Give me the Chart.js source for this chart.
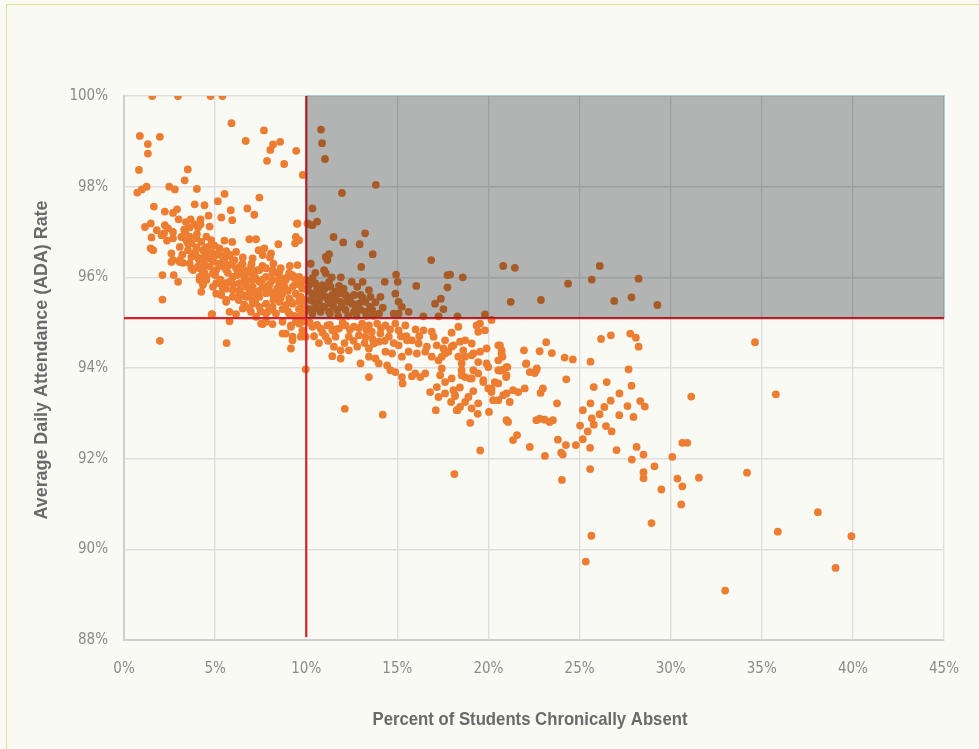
<!DOCTYPE html>
<html>
<head>
<meta charset="utf-8">
<script src="https://cdn.jsdelivr.net/npm/chart.js@4/dist/chart.umd.min.js"></script>
<style>
  html, body { margin: 0; padding: 0; background: #fafaf5; overflow: hidden; }
  #frame { position: absolute; left: 6px; top: 4px; width: 1200px; height: 1000px;
           border: 1.5px solid #e3e48e; box-sizing: border-box; }
  #wrap { position: absolute; left: 0; top: 0; width: 979px; height: 749px; }
</style>
</head>
<body>
<div id="frame"></div>
<div id="wrap"><canvas id="chart" width="979" height="749"></canvas></div>
<script>
// Schools: [percent of students chronically absent, average daily attendance rate]
const schoolsUnder10 = [
  [1.55,100],[2.96,100],[4.75,100],[5.4,100],
  [5.9,99.4],[7.68,99.24],[6.68,99.01],[8.18,98.93],[8.57,98.99],[8.03,98.81],[9.45,98.79],[7.85,98.57],[8.79,98.5],[9.81,98.26],
  [0.87,99.12],[1.97,99.1],[1.31,98.94],[1.31,98.73],[0.82,98.37],[3.5,98.38],[3.33,98.14],[4.0,97.95],[1.24,98.0],[0.98,97.94],[0.73,97.87],[2.48,98.0],[2.79,97.94],
  [5.52,97.84],[5.15,97.68],[7.43,97.76],[1.64,97.56],[2.24,97.45],[2.69,97.42],[2.91,97.5],[3.88,97.61],[4.42,97.59],[5.86,97.48],[6.77,97.52],[7.15,97.38],[5.34,97.32],[5.94,97.26],[4.64,97.36],[3.0,97.28],[1.15,97.11],[1.47,97.19],[9.49,97.18],
  [3.4,97.22],[3.66,97.28],[4.2,97.28],[1.8,97.04],
  [2.24,97.15],[2.42,97.08],[2.69,97.0],[2.2,96.97],
  [3.35,97.0],[3.6,97.1],[3.88,97.17],[4.06,97.1],[4.2,97.17],[4.7,97.12],
  [1.51,96.88],[2.06,96.93],[2.36,96.81],[2.69,96.86],[3.15,96.89],
  [1.46,96.64],[1.6,96.6],
  [3.42,96.82],[3.7,96.75],[3.97,96.86],[4.24,96.78],[4.52,96.9],[4.79,96.82],
  [5.51,96.81],[5.94,96.78],[6.88,96.84],[7.25,96.84],[8.47,96.73],[9.61,96.82],[9.39,96.75],[9.52,97.19],
  [3.06,96.67],[3.51,96.6],[3.97,96.66],[4.33,96.6],[4.6,96.67],[4.97,96.7],[5.24,96.64],[5.61,96.58],[6.15,96.56],
  [2.6,96.53],[2.69,96.38],[3.06,96.38],[3.24,96.32],
  [3.7,96.45],[4.06,96.44],[4.42,96.45],[4.7,96.42],[5.06,96.49],[5.42,96.45],[5.79,96.47],[6.06,96.38],[6.52,96.44],[7.06,96.42],[7.61,96.49],[8.01,96.44],[7.39,96.6],[7.7,96.64],[8.07,96.53],
  [3.7,96.2],[4.06,96.24],[4.33,96.16],[4.7,96.24],[5.06,96.16],[5.42,96.24],[5.79,96.27],[6.15,96.2],[6.6,96.16],[6.97,96.24],[7.33,96.16],[7.79,96.2],[8.15,96.16],[8.52,96.12],[9.06,96.09],[9.34,96.01],[9.61,96.01],[9.88,95.94],[9.7,95.83],
  [2.11,96.05],[2.73,96.05],[2.97,95.9],[2.11,95.51],
  [4.15,96.01],[4.52,95.94],[4.33,95.83],[4.24,95.68],[4.88,95.79],[5.24,95.87],[5.06,95.64],[5.42,95.75],[5.79,95.9],[5.97,95.57],[6.34,95.72],[6.7,95.83],[7.06,95.94],[7.43,95.9],[7.79,96.01],[8.15,95.94],[8.52,95.87],[8.88,95.98],[9.25,96.01],[9.61,95.87],[9.79,95.75],[9.43,95.64],[9.07,95.53],[8.7,95.64],[8.34,95.57],[7.97,95.72],[7.61,95.79],[7.25,95.64],[6.88,95.57],[6.52,95.61],[7.06,95.42],[7.43,95.35],[7.79,95.42],[8.15,95.35],[8.52,95.46],[8.88,95.39],[9.25,95.42],[9.61,95.46],[9.88,95.35],[5.79,95.24],[6.15,95.19],[4.84,95.19],[5.79,95.03],[7.61,94.97],[8.15,94.97],[8.7,95.02],[9.16,94.94],[9.61,94.98],[9.79,94.76],[8.7,94.76],[9.25,94.69],[9.88,95.28],[9.07,95.2],[8.34,95.2],[7.88,95.24],
  [6.88,95.32],[7.25,95.13],[5.34,95.61],[5.61,95.46],[4.42,96.09],
  [1.97,94.6],[5.63,94.55],[4.81,95.18],[9.97,93.97],
  [9.43,96.89],[9.52,96.27],
  [9.7,95.94],[9.79,95.76],[9.7,95.57],[9.79,95.35],[9.88,95.2],
  [9.79,95.02],[9.79,94.83],[9.7,94.69],
  [5.06,95.87],[5.61,95.5],[6.34,95.64],[6.7,95.79],[7.06,95.5],[7.79,95.2],[8.15,95.28],[9.25,95.79],[9.61,95.57],[9.61,95.13],[9.43,95.02],[9.16,94.91],[8.88,94.76],[9.97,94.69],[9.16,94.43],[9.25,94.61],[7.52,94.98],[6.97,95.24],[6.52,95.31],[7.79,95.02],
  [2.6,96.34],[3.06,96.34],[3.6,96.31],[4.15,96.2],[3.79,96.16],[4.33,96.09],
  [4.15,95.94],[4.33,95.87],[4.52,96.01],[4.88,96.09],
  [5.61,96.16],[5.97,96.01],[6.34,96.09],[6.7,95.94],[7.06,96.09],[7.43,96.16],[8.15,96.09],[8.52,96.01],[8.88,95.94],[9.25,96.05],[9.97,95.94],
  [5.61,95.87],[6.34,95.87],[7.06,95.79],[7.79,95.79],[8.15,95.64],[8.52,95.72],[7.43,95.57],[6.7,95.57],[5.97,95.72],
  [3.2,96.5],[3.5,96.75],[3.9,96.55],[4.1,96.4],[4.4,96.3],[4.6,96.5],[4.9,96.35],[5.2,96.3],[5.5,96.35],[5.7,96.1],[5.9,96.3],[6.2,96.05],[6.4,96.25],[6.6,96.0],[6.8,96.1],[7.0,95.95],[7.2,96.0],[7.4,95.7],[7.6,95.95],[7.8,95.65],[8.0,95.85],[8.2,95.5],[8.4,95.75],[8.6,95.55],[8.8,95.8],[9.0,95.7],[9.2,95.45],[9.4,95.85],[9.6,95.3],[9.85,95.5],
  [5.0,96.05],[5.3,95.95],[5.6,95.75],[6.0,95.85],[6.3,95.5],[6.6,95.4],[6.9,95.7],[7.2,95.45],[7.5,95.25],[8.0,95.3],[8.3,95.6],[8.7,95.3],[9.0,95.25],[9.35,95.15],
  [4.5,96.65],[4.0,96.95],[4.8,96.55],[3.6,96.9],[3.3,97.05],[5.2,96.55],[5.8,96.5],[6.5,96.3],[7.0,96.3],[7.6,96.25],[8.2,96.3],[8.6,96.2],[9.1,96.25]
];

const schools10to20 = [
  [10.16,97.17],[10.34,97.15],[10.6,97.23],
  [10.81,99.26],[10.87,98.96],[11.03,98.61],[13.82,98.04],[11.96,97.86],[10.34,97.52],[10.07,97.19],
  [11.5,96.89],[13.23,96.97],[12.03,96.77],[12.93,96.73],[13.65,96.51],[11.25,96.51],[11.07,96.45],[11.16,96.38],[13.02,96.23],[16.86,96.38],[10.98,96.16],[11.07,96.09],[10.34,95.98],[10.49,95.87],[10.16,95.83],[10.89,95.83],[11.25,95.9],[11.34,95.79],[11.8,95.81],[11.61,95.68],
  [10.34,95.64],[10.61,95.61],[10.89,95.68],[10.25,95.5],[10.7,95.46],[11.07,95.57],[11.43,95.61],[11.8,95.64],[12.16,95.61],[12.25,95.46],[11.89,95.46],[11.34,95.42],[10.98,95.35],[10.52,95.31],[10.34,95.2],[10.79,95.24],[11.25,95.24],[11.7,95.28],[12.16,95.28],[12.62,95.24],[12.98,95.28],[13.25,95.24],[13.62,95.28],[12.89,95.42],[13.25,95.46],[13.53,95.57],[13.44,95.72],[12.8,95.79],[12.98,95.61],[12.62,95.61],[12.52,95.42],
  [14.31,95.9],[14.93,96.06],[15.02,95.9],[14.89,95.64],[14.07,95.57],[15.07,95.46],[15.25,95.35],[15.62,95.24],[14.2,95.33],[14.8,95.2],[15.07,95.2],[16.04,95.81],[17.07,95.42],[17.39,95.53],[17.53,95.3],[17.75,96.05],[17.9,96.06],[18.59,96.0],[17.75,95.78],[16.43,95.14],[17.26,95.14],[18.3,95.14],[19.81,95.18],
  [10.34,94.91],[10.43,94.7],[10.79,94.87],[11.16,94.94],[11.43,94.83],[11.07,94.69],[11.8,94.87],[12.16,94.94],[12.62,94.91],[13.07,94.98],[13.44,94.94],[13.89,94.98],[14.35,94.94],[14.89,94.98],[15.44,94.94],
  [11.61,94.69],[12.34,94.69],[12.89,94.72],[13.25,94.69],[13.62,94.65],[14.07,94.76],[14.53,94.69],[15.07,94.83],
  [11.52,94.47],[11.89,94.39],[12.34,94.39],[12.8,94.47],[13.44,94.43],[13.71,94.54],[14.35,94.36],[13.98,94.58],[14.71,94.32],[15.07,94.5],[15.53,94.61],[15.8,94.61],[16.17,94.54],[16.44,94.83],[16.89,94.8],[16.99,94.69],[16.62,94.47],[17.16,94.5],[17.62,94.61],[17.98,94.78],[18.35,94.91],[18.72,94.61],[19.08,94.54],[19.44,94.8],[19.81,94.83],[19.9,94.43],[19.54,94.36],[19.08,94.28],[18.72,94.25],[18.35,94.25],[17.98,94.47],[17.62,94.32],[17.26,94.17],[16.89,94.25],[16.53,94.36],[16.07,94.32],[15.62,94.36],[15.25,94.25],
  [12.98,94.1],[13.44,93.8],[13.98,94.1],[14.44,94.06],[14.62,93.95],[14.89,93.91],[13.8,94.21],[13.44,94.25],[11.43,94.26],[11.89,94.21],
  [15.25,93.8],[15.62,94.02],[15.98,93.88],[16.53,93.88],[16.8,93.47],[17.17,93.58],[17.62,93.69],[18.08,93.51],[18.17,93.4],[18.53,93.95],[18.72,93.8],[19.08,93.77],[19.44,93.88],[19.72,93.69],[19.99,94.02],
  [17.53,94.43],[17.8,94.36],[17.44,94.25],[18.08,94.5],[18.44,94.58],[18.62,94.39],[19.17,94.32],[19.44,94.13],[19.9,94.1],[18.53,94.1],[17.44,93.99],[17.35,93.84],[17.98,93.77],[18.53,93.84],[18.99,93.77],[19.17,93.95],[19.35,94.94],[19.54,94.98],
  [19.72,93.73],[19.99,93.55],
  [18.13,91.66],[19.55,92.18],[19.0,92.79],[19.08,93.11],[19.41,92.99],[18.3,93.07],[18.17,93.38],[19.17,93.49],
  [12.12,93.1],[14.2,92.97],[15.29,93.66],[15.8,93.82],[16.26,93.8],[17.11,93.07],[18.43,93.57],[18.26,93.07],[19.44,93.22],[17.26,93.36],[17.62,93.44],[17.95,93.25],[18.9,93.36],[18.72,93.25],[18.44,93.14],
  [10.1,95.7],[10.2,95.3],[10.45,95.45],[10.6,95.75],[10.75,95.55],[10.9,95.35],[11.0,95.75],[11.2,95.5],[11.3,95.2],[11.5,95.35],[11.6,95.5],[11.75,95.15],[11.95,95.35],[12.05,95.75],[12.3,95.15],[12.4,95.55],[12.7,95.38],[12.75,95.15],[13.1,95.55],[13.3,95.15],[13.5,95.35],[13.8,95.45],[14.0,95.2],[12.5,95.9],[11.9,96.0],[11.4,96.0],[10.5,96.1],[10.25,96.3],[13.1,95.9],[13.7,95.15],
  [10.2,95.0],[10.6,94.95],[10.9,94.78],[11.3,94.95],[11.6,94.85],[12.0,95.0],[12.4,94.85],[12.9,94.88],[13.3,94.85],[13.6,94.8],[14.1,94.88],[14.6,94.85],[15.2,94.7],[10.7,94.55],[11.2,94.6],[12.1,94.55],[12.6,94.6],[13.2,94.55],[14.3,94.6],[14.8,94.55],[15.5,94.7],[16.0,94.85],[16.2,94.7]
];

const schools20Plus = [
  [20.17,95.06],[20.17,93.55],[20.63,94.5],[20.72,94.32],[20.99,94.02],[20.54,93.95],[20.99,93.84],
  [20.17,93.47],[20.35,93.69],[20.54,93.66],[20.81,93.4],[20.54,93.29],[20.26,93.29],[20.99,93.44],[21.17,93.25],[21.35,93.51],[21.63,93.47],[21.99,93.55],[21.95,94.39],[22.08,94.1],[22.27,93.91],[22.63,93.95],[22.81,94.37],[23.17,94.57],[23.48,94.33],[24.18,94.23],[24.63,94.19],[24.27,93.75],[25.6,94.14],[26.18,94.64],[26.72,94.72],[27.78,94.76],[28.09,94.67],[28.24,94.47],[27.69,93.97],[27.85,93.61],[28.33,93.27],[28.58,93.15],[27.63,93.16],[27.19,93.44],[27.18,92.96],[27.96,92.92],[26.71,93.28],[26.36,93.14],[26.1,92.98],[26.49,93.69],[25.78,93.58],[25.18,93.07],[25.6,93.22],[25.67,92.89],[25.78,92.75],[25.03,92.73],[26.45,92.72],[26.76,92.6],[25.45,92.6],[25.18,92.43],[25.58,92.24],[27.03,92.19],[28.13,92.26],[28.51,92.09],[27.87,91.98],[29.11,91.83],[30.09,92.04],[28.51,91.7],[28.51,91.57],[29.49,91.32],[30.37,91.56],[30.64,91.39],[31.55,91.58],[30.58,90.99],[30.64,92.35],[30.91,92.35],[31.13,93.37],[25.58,91.77],[24.03,91.53],[23.1,92.06],[23.99,92.13],[24.08,92.09],[23.81,92.42],[24.25,92.3],[24.8,92.3],[22.27,92.26],[21.35,92.41],[21.57,92.52],[20.99,92.85],[21.08,92.81],[20.03,93.03],[22.63,92.85],[22.81,92.88],[23.09,92.86],[23.36,92.81],[23.54,92.85],[22.86,93.45],[22.99,93.55],[23.76,93.22],
  [20.81,96.25],[21.45,96.21],[26.11,96.25],[24.37,95.86],[25.67,95.95],[28.24,95.97],[21.22,95.46],[22.88,95.5],[26.9,95.48],[27.85,95.56],[29.27,95.39],
  [22.06,94.09],[22.65,93.99],[22.54,93.89],[21.04,94.02],[20.97,93.8],[20.63,93.94],[20.81,93.97],[20.54,94.5],[20.72,94.39],[20.77,94.25],[20.54,94.17],
  [34.19,91.69],[28.95,90.58],[25.65,90.3],[25.34,89.73],[32.99,89.09],[35.88,90.39],[38.08,90.82],[39.92,90.29],[39.05,89.59],[34.63,94.57],[35.77,93.42]
];

// Reference thresholds: 10% chronic absence, 95.1% average daily attendance
const ABSENCE_THRESHOLD = 10;
const ADA_THRESHOLD = 95.1;

// Axis ranges and tick steps
const absenceTicks = [0, 5, 10, 15, 20, 25, 30, 35, 40, 45];
const adaTicks = [88, 90, 92, 94, 96, 98, 100];

// Axis titles
const X_TITLE = 'Percent of Students Chronically Absent';
const Y_TITLE = 'Average Daily Attendance (ADA) Rate';

const points = [...schoolsUnder10, ...schools10to20, ...schools20Plus]
  .map(([x, y]) => ({ x, y }));

const LABEL_FONT = "'Liberation Sans Narrow', 'DejaVu Sans Condensed', 'Liberation Sans', sans-serif";
const TITLE_FONT = "bold 19px 'Liberation Sans', Arial, sans-serif";
// Horizontal squeeze that gives the axis titles a condensed look
const X_TITLE_SQUEEZE = 0.88;
const Y_TITLE_SQUEEZE = 0.94;

// Threshold lines and the shaded high-attendance / high-absence quadrant
const thresholdPlugin = {
  id: 'thresholds',
  afterDatasetsDraw(chart) {
    const { ctx, scales: { x, y } } = chart;
    const xLeft = x.getPixelForValue(absenceTicks[0]);
    const xRight = x.getPixelForValue(absenceTicks[absenceTicks.length - 1]);
    const yTop = y.getPixelForValue(adaTicks[adaTicks.length - 1]);
    const yBottom = y.getPixelForValue(adaTicks[0]);
    const xT = x.getPixelForValue(ABSENCE_THRESHOLD);
    const yT = y.getPixelForValue(ADA_THRESHOLD);
    ctx.save();
    ctx.strokeStyle = '#d8232c';
    ctx.lineWidth = 2.2;
    ctx.beginPath();
    ctx.moveTo(xLeft, yT);
    ctx.lineTo(xRight, yT);
    ctx.stroke();
    ctx.beginPath();
    ctx.moveTo(xT, yTop);
    ctx.lineTo(xT, yBottom - 3);
    ctx.stroke();
    ctx.fillStyle = 'rgba(0, 12, 13, 0.29)';
    ctx.fillRect(xT, yTop, xRight - xT, yT - yTop);
    ctx.strokeStyle = 'rgba(160, 205, 215, 0.9)';
    ctx.lineWidth = 1;
    ctx.beginPath();
    ctx.moveTo(xT, yTop - 0.5);
    ctx.lineTo(xRight + 0.5, yTop - 0.5);
    ctx.lineTo(xRight + 0.5, yT);
    ctx.stroke();
    ctx.restore();
  },
  // Condensed bold axis titles centred on the plot area
  afterDraw(chart) {
    const { ctx, chartArea } = chart;
    const cx = (chartArea.left + chartArea.right) / 2;
    const cy = (chartArea.top + chartArea.bottom) / 2;
    ctx.save();
    ctx.fillStyle = '#6a6a6a';
    ctx.font = TITLE_FONT;
    ctx.textAlign = 'center';
    ctx.textBaseline = 'middle';
    ctx.save();
    ctx.translate(cx - 4, 720);
    ctx.scale(X_TITLE_SQUEEZE, 1);
    ctx.fillText(X_TITLE, 0, 0);
    ctx.restore();
    ctx.save();
    ctx.translate(42, cy - 8);
    ctx.rotate(-Math.PI / 2);
    ctx.scale(Y_TITLE_SQUEEZE, 1);
    ctx.fillText(Y_TITLE, 0, 0);
    ctx.restore();
    ctx.restore();
  }
};

new Chart(document.getElementById('chart'), {
  type: 'scatter',
  data: {
    datasets: [{
      data: points,
      backgroundColor: '#ed7d31',
      borderWidth: 0,
      pointRadius: 3.9,
      pointHoverRadius: 3.9
    }]
  },
  options: {
    responsive: false,
    animation: false,
    devicePixelRatio: 1,
    events: [],
    layout: { padding: { top: 96, right: 31, bottom: 0, left: 0 } },
    plugins: { legend: { display: false }, tooltip: { enabled: false } },
    scales: {
      x: {
        type: 'linear',
        min: absenceTicks[0],
        max: absenceTicks[absenceTicks.length - 1],
        afterBuildTicks: (s) => { s.ticks = absenceTicks.map(v => ({ value: v })); },
        afterFit: (s) => { s.height = 109; },
        ticks: {
          callback: (v) => v + '%',
          color: '#8a8a8a',
          padding: 20,
          font: { family: LABEL_FONT, size: 15 }
        },
        grid: { color: '#dedede', lineWidth: 1.4, drawTicks: false },
        border: { color: '#cfcfcf', width: 2 }
      },
      y: {
        type: 'linear',
        min: adaTicks[0],
        max: adaTicks[adaTicks.length - 1],
        afterBuildTicks: (s) => { s.ticks = adaTicks.map(v => ({ value: v })); },
        afterFit: (s) => { s.width = 124; },
        ticks: {
          callback: (v) => v + '%',
          color: '#8a8a8a',
          padding: 16,
          font: { family: LABEL_FONT, size: 15 }
        },
        grid: { color: '#dedede', lineWidth: 1.4, drawTicks: false },
        border: { color: '#cfcfcf', width: 2 }
      }
    }
  },
  plugins: [thresholdPlugin]
});
</script>
</body>
</html>
